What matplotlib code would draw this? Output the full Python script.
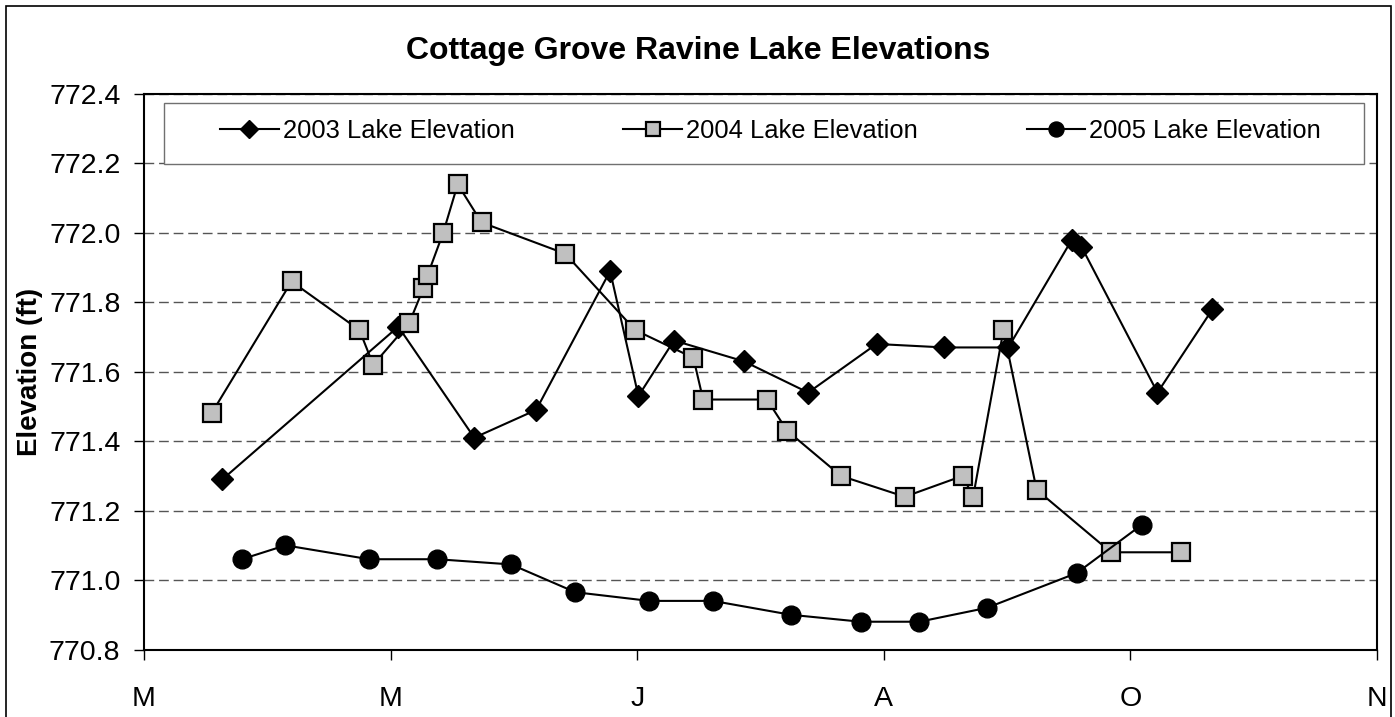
import matplotlib
matplotlib.use('Agg')
import matplotlib.pyplot as plt
from matplotlib.patches import Rectangle

plt.rcParams['font.family'] = ['Liberation Sans', 'DejaVu Sans']

# days counted from the first axis tick (M)
day_2003 = [19.4, 62.9, 81.7, 97.0, 115.3, 122.3, 131.1, 148.4, 164.3, 181.2,
            197.9, 213.8, 229.5, 231.9, 250.7, 264.3]
elev_2003 = [771.29, 771.73, 771.41, 771.49, 771.89, 771.53, 771.69, 771.63, 771.54, 771.68,
             771.67, 771.67, 771.98, 771.96, 771.54, 771.78]

day_2004 = [16.7, 36.5, 53.3, 56.7, 65.6, 69.1, 70.2, 74.0, 77.6, 83.5, 104.2, 121.5,
            135.9, 138.3, 154.1, 159.1, 172.4, 188.2, 202.5, 205.1, 212.6, 220.8, 239.2, 256.5]
elev_2004 = [771.48, 771.86, 771.72, 771.62, 771.74, 771.84, 771.88, 772.00, 772.14, 772.03,
             771.94, 771.72, 771.64, 771.52, 771.52, 771.43, 771.30, 771.24, 771.30, 771.24,
             771.72, 771.26, 771.08, 771.08]

day_2005 = [24.2, 35.0, 55.7, 72.6, 90.8, 106.7, 125.0, 140.7, 160.0, 177.3, 191.8, 208.5,
            230.7, 246.9]
elev_2005 = [771.06, 771.10, 771.06, 771.06, 771.045, 770.965, 770.94, 770.94, 770.90, 770.88,
             770.88, 770.92, 771.02, 771.16]

tick_days = [0, 61, 122, 183, 244, 305]
tick_labels = ['M', 'M', 'J', 'A', 'O', 'N']
y_ticks = [770.8, 771.0, 771.2, 771.4, 771.6, 771.8, 772.0, 772.2, 772.4]

W, H = 1395, 717
fig = plt.figure(figsize=(W / 100, H / 100), dpi=100)
ax = fig.add_axes([144 / W, (H - 649.5) / H, (1377 - 144) / W, (649.5 - 94) / H])

ax.plot(day_2003, elev_2003, color='black', lw=1.5, marker='D', ms=11.5,
        mfc='black', mec='black', label='2003 Lake Elevation', zorder=3)
ax.plot(day_2004, elev_2004, color='black', lw=1.5, marker='s', ms=12.5,
        mfc='#c0c0c0', mec='black', mew=1.6, label='2004 Lake Elevation', zorder=3)
ax.plot(day_2005, elev_2005, color='black', lw=1.5, marker='o', ms=13.5,
        mfc='black', mec='black', label='2005 Lake Elevation', zorder=3)

ax.set_xlim(0, 305)
ax.set_ylim(770.8, 772.4)
ax.set_xticks(tick_days)
ax.set_xticklabels(tick_labels)
ax.set_yticks(y_ticks)
ax.set_yticklabels(['%.1f' % v for v in y_ticks])
ax.tick_params(axis='both', direction='out', length=7, width=1, labelsize=20.5)
ax.tick_params(axis='x', pad=19)
ax.tick_params(axis='y', pad=10)
ax.yaxis.grid(True, color='#555555', lw=1.0, linestyle=(0, (7, 3.5)))
ax.set_axisbelow(True)
for s in ax.spines.values():
    s.set_linewidth(1.5)
    s.set_color('black')

# legend box (white, covers the top grid line)
ax.add_patch(Rectangle((164 / W, 1 - 164 / H), (1364 - 164) / W, 61 / H,
                       transform=fig.transFigure, facecolor='white',
                       edgecolor='#707070', lw=1.0, zorder=4, clip_on=False))
ax.legend(loc='center', bbox_to_anchor=(220 / W, 1 - 131 / H, (1321 - 220) / W, 0),
          bbox_transform=fig.transFigure, mode='expand', ncol=3, frameon=False,
          borderpad=0, borderaxespad=0, handlelength=2.3, handletextpad=0.15,
          fontsize=18.4, markerscale=0.8)

fig.text(698 / W, 1 - 51 / H, 'Cottage Grove Ravine Lake Elevations',
         ha='center', va='center', fontsize=23, fontweight='bold')
fig.text(30 / W, 1 - 372 / H, 'Elevation (ft)', rotation=90,
         ha='center', va='center', fontsize=20, fontweight='bold')

# outer chart border
fig.patches.append(Rectangle((6 / W, -0.05), (1391 - 6) / W, 1.05 - 6 / H,
                             transform=fig.transFigure, fill=False,
                             edgecolor='black', lw=1.2))

fig.savefig('out.png', dpi=100)
